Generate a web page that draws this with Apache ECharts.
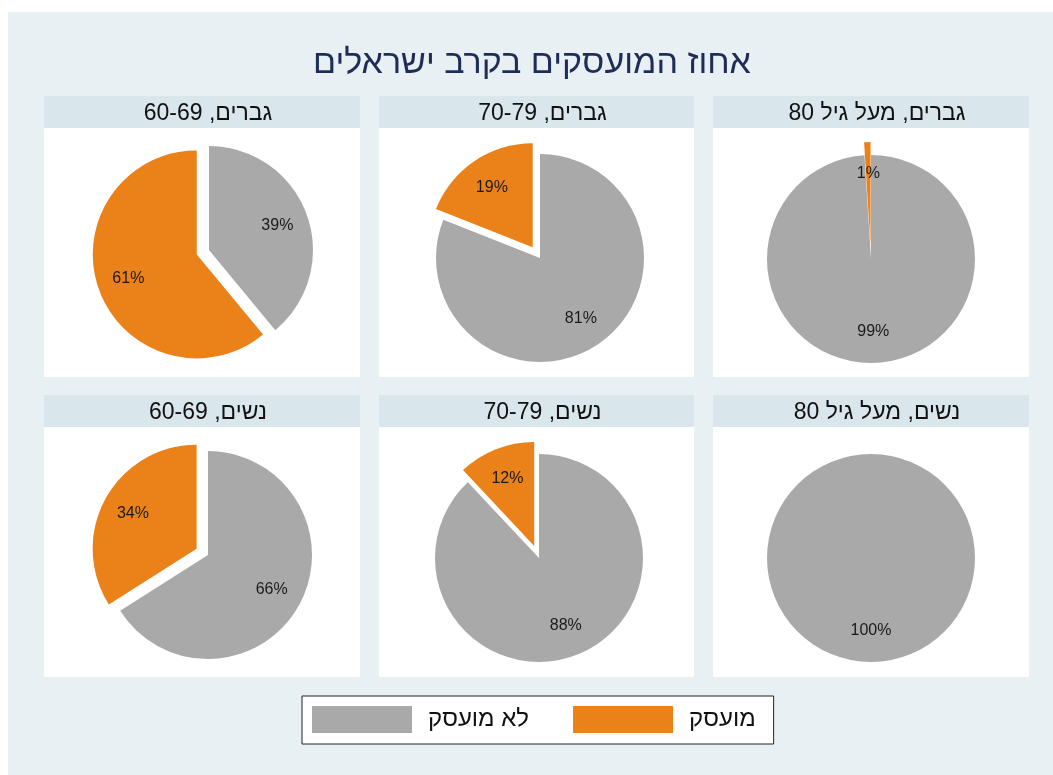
<!DOCTYPE html>
<html>
<head>
<meta charset="utf-8">
<script src="https://cdn.jsdelivr.net/npm/echarts@6/dist/echarts.min.js"></script>
<style>
	html, body { margin: 0; padding: 0; background: #fff; }
	#chart { width: 1053px; height: 775px; }
</style>
</head>
<body>
<div id="chart"></div>
<script>
// Data
const panelTitles = [
	'גברים, 60-69', 'גברים, 70-79', 'גברים, מעל גיל 80',
	'נשים, 60-69', 'נשים, 70-79', 'נשים, מעל גיל 80'
];
const categoryNames = [ 'לא מועסק', 'מועסק' ];
const notEmployed = [ 39, 81, 99, 66, 88, 100 ];
const employed = [ 61, 19, 1, 34, 12, 0 ];

const GRAY = '#a9a9a9';
const ORANGE = '#ea8219';
const FONT = '"Liberation Sans", Arimo, "DejaVu Sans", sans-serif';

// Right-to-Left Embedding, so titles that mix Hebrew and digits keep their order
const rtl = ( text ) => '\u202B' + text + '\u202C';

// panel geometry (pixels)
const colX = [ [ 44, 360 ], [ 379, 694 ], [ 713, 1029 ] ];
const rowY = [ { head: 96, top: 128, bottom: 377 }, { head: 395, top: 427, bottom: 677 } ];
const pieCenters = [ [ 209, 250 ], [ 540, 258 ], [ 871, 259 ], [ 208, 555 ], [ 539, 558 ], [ 871, 558 ] ];
const R = 104;
const EXPLODE = 13;

const chart = echarts.init( document.getElementById( 'chart' ), null, { renderer: 'canvas' } );

const graphics = [
	{ type: 'rect', shape: { x: 8, y: 12, width: 1045, height: 763 }, style: { fill: '#e8f0f3' }, silent: true }
];
const titles = [ {
	text: 'אחוז המועסקים בקרב ישראלים',
	left: 527,
	top: 42,
	textAlign: 'center',
	textStyle: { fontFamily: FONT, fontSize: 34, fontWeight: 'normal', color: '#1e2c58' }
} ];

panelTitles.forEach( ( name, i ) => {
	const [ x0, x1 ] = colX[ i % 3 ];
	const row = rowY[ Math.floor( i / 3 ) ];
	graphics.push(
		{ type: 'rect', shape: { x: x0, y: row.head, width: x1 - x0, height: row.top - row.head }, style: { fill: '#d9e6ec' }, silent: true },
		{ type: 'rect', shape: { x: x0, y: row.top, width: x1 - x0, height: row.bottom - row.top }, style: { fill: '#fff' }, silent: true }
	);
	titles.push( {
		text: rtl( name ),
		left: ( x0 + x1 ) / 2 + 1,
		top: row.head + 1,
		textAlign: 'center',
		textStyle: { fontFamily: FONT, fontSize: 23, fontWeight: 'normal', color: '#111' }
	} );
} );

const pieData = ( i, colors ) => [
	{ name: categoryNames[ 0 ], value: notEmployed[ i ], itemStyle: { color: colors[ 0 ] } },
	{ name: categoryNames[ 1 ], value: employed[ i ], selected: employed[ i ] > 0, itemStyle: { color: colors[ 1 ] } }
];

const series = [];
// the pies themselves
pieCenters.forEach( ( center, i ) => {
	series.push( {
		type: 'pie',
		center,
		radius: [ 0, R ],
		startAngle: 90,
		clockwise: true,
		selectedMode: 'multiple',
		selectedOffset: EXPLODE,
		silent: true,
		animation: false,
		label: { show: false },
		labelLine: { show: false },
		emphasis: { disabled: true },
		itemStyle: { borderWidth: 0 },
		data: pieData( i, [ GRAY, ORANGE ] )
	} );
} );
// invisible copies, only to put the percentages two thirds of the way out
pieCenters.forEach( ( center, i ) => {
	series.push( {
		type: 'pie',
		center,
		radius: [ 0, R * 1.34 ],
		startAngle: 90,
		clockwise: true,
		selectedMode: 'multiple',
		selectedOffset: EXPLODE,
		silent: true,
		animation: false,
		emphasis: { disabled: true },
		labelLine: { show: false },
		itemStyle: { borderWidth: 0 },
		label: {
			show: true,
			position: 'inside',
			fontFamily: FONT,
			fontSize: 16,
			color: '#1a1a1a',
			formatter: ( p ) => p.value > 0 ? p.value + '%' : ''
		},
		data: pieData( i, [ 'rgba(0,0,0,0)', 'rgba(0,0,0,0)' ] )
	} );
} );

chart.setOption( {
	backgroundColor: '#fff',
	animation: false,
	title: titles,
	graphic: graphics,
	legend: {
		data: categoryNames,
		left: 302,
		top: 696,
		orient: 'horizontal',
		itemWidth: 100,
		itemHeight: 27,
		itemGap: 44,
		padding: [ 10, 18, 11, 10 ],
		backgroundColor: '#fff',
		borderColor: '#222',
		borderWidth: 1,
		borderRadius: 0,
		selectedMode: false,
		icon: 'rect',
		textStyle: { fontFamily: FONT, fontSize: 24, color: '#111', padding: [ 0, 0, 0, 11 ] }
	},
	series
} );
</script>
</body>
</html>
